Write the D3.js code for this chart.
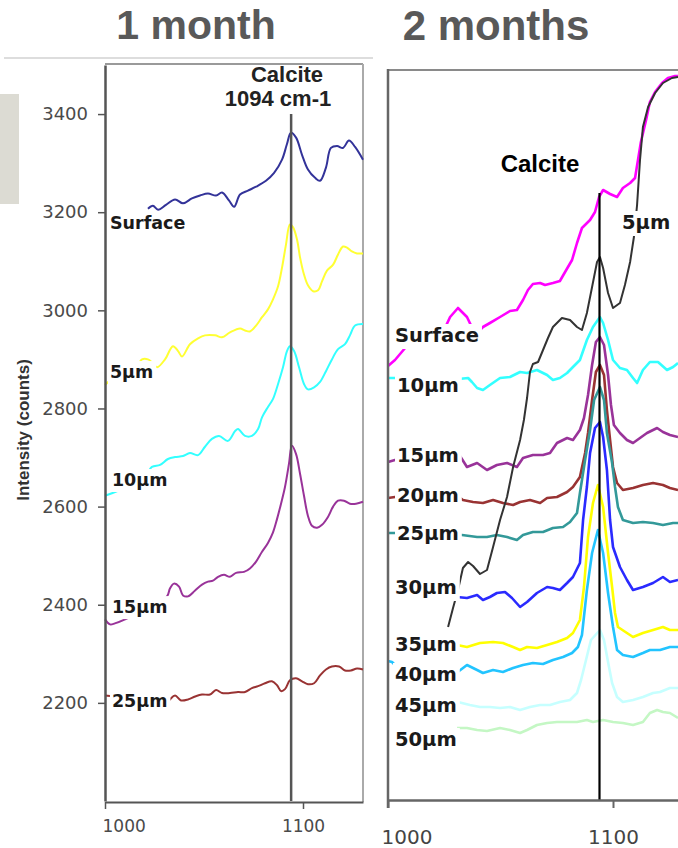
<!DOCTYPE html>
<html>
<head>
<meta charset="utf-8">
<script src="https://cdn.jsdelivr.net/npm/d3@7/dist/d3.min.js"></script>
<style>
  body { margin: 0; background: #fff; }
  svg { display: block; }
</style>
</head>
<body>
<svg id="chart" width="678" height="848"></svg>
<script>
// ---------- shared axis values ----------
const wavenumberTicks = [1000, 1100];
const oneMonthIntensityTicks = [2200, 2400, 2600, 2800, 3000, 3200, 3400];
const calciteBand = 1094;            // cm-1
const oneMonthMarkerTop = 3400;      // counts
const twoMonthMarkerTop = 3035;      // counts

// ---------- 1 month spectra: [wavenumber cm-1, intensity counts] ----------
const oneMonthDepths = ["Surface", "5µm", "10µm", "15µm", "25µm"];

const oneMonthSurface = [
  [1021.7,3207],[1024.2,3213],[1026.8,3205],[1030.8,3215],[1035.4,3226],[1039.4,3218],
  [1043.9,3228],[1048.0,3234],[1052.0,3238],[1056.1,3234],[1059.1,3240],[1062.6,3224],
  [1065.2,3211],[1068.2,3236],[1072.2,3244],[1076.3,3252],[1081.3,3264],[1085.4,3280],
  [1089.4,3307],[1091.9,3339],[1093.9,3362],[1096.5,3352],[1099.5,3317],[1102.5,3287],
  [1106.1,3270],[1108.6,3264],[1111.6,3291],[1114.1,3331],[1117.2,3335],[1120.2,3331],
  [1123.2,3346],[1126.3,3333],[1130.3,3307]
];
const oneMonth5um = [
  [1000,2848],[1002.5,2856],[1008,2862],[1014,2872],[1018.7,2900],[1021.7,2900],[1023.7,2894],
  [1026.3,2884],[1030.3,2900],[1034.3,2927],[1036.9,2917],[1038.9,2906],[1042.9,2931],
  [1047.0,2943],[1050.5,2949],[1055.6,2949],[1059.1,2945],[1063.1,2955],[1068.2,2963],
  [1070.7,2959],[1073.2,2957],[1076.3,2969],[1079.3,2986],[1082.3,3002],[1084.8,3022],
  [1087.4,3049],[1089.4,3087],[1091.4,3134],[1093.4,3175],[1095.0,3169],[1097.0,3144],
  [1098.5,3108],[1100.5,3073],[1102.5,3051],[1105.1,3039],[1107.6,3041],[1109.6,3059],
  [1112.1,3081],[1115.2,3093],[1117.7,3114],[1120.2,3130],[1122.2,3128],[1124.7,3120],
  [1127.3,3116],[1130.3,3116]
];
const oneMonth10um = [
  [1000,2622],[1006.6,2632],[1012,2640],[1019,2652],[1023.7,2681],[1027.8,2685],[1031.8,2697],
  [1035.4,2701],[1039.4,2703],[1042.9,2709],[1047.0,2705],[1050.5,2722],[1054.0,2738],
  [1057.6,2744],[1062.1,2734],[1065.7,2754],[1067.2,2758],[1070.7,2744],[1074.2,2744],
  [1077.3,2758],[1079.3,2782],[1082.3,2803],[1084.8,2819],[1087.4,2850],[1089.9,2884],
  [1091.9,2917],[1093.4,2927],[1095.5,2917],[1098.0,2884],[1100.5,2850],[1102.5,2839],
  [1105.6,2843],[1108.6,2854],[1111.6,2876],[1114.6,2900],[1117.7,2921],[1121.2,2931],
  [1123.7,2949],[1126.3,2969],[1130.3,2972]
];
const oneMonth15um = [
  [1000,2370],[1002.5,2360],[1005,2362],[1017.7,2385],[1031.3,2417],[1032.8,2433],
  [1034.8,2443],[1037.4,2437],[1039.4,2419],[1041.9,2417],[1045.5,2429],[1049.0,2441],
  [1052.0,2447],[1054.5,2449],[1057.1,2457],[1060.1,2461],[1063.1,2457],[1066.2,2465],
  [1070.2,2467],[1073.2,2474],[1076.3,2488],[1079.3,2508],[1082.3,2526],[1084.8,2547],
  [1086.9,2575],[1088.9,2606],[1090.9,2640],[1092.9,2687],[1094.4,2724],[1096.5,2707],
  [1098.5,2667],[1100.5,2622],[1102.5,2581],[1104.5,2561],[1107.1,2557],[1109.6,2563],
  [1112.6,2579],[1115.2,2600],[1117.7,2612],[1120.7,2612],[1123.7,2606],[1126.8,2606],
  [1130.3,2610]
];
const oneMonth25um = [
  [1000,2215],[1012.6,2209],[1030.3,2195],[1032.8,2207],[1035.4,2215],[1038.4,2205],
  [1041.9,2207],[1045.5,2213],[1049.0,2217],[1053.0,2217],[1056.1,2226],[1059.1,2220],
  [1063.1,2220],[1067.2,2222],[1070.7,2222],[1074.2,2230],[1077.3,2234],[1080.8,2240],
  [1084.3,2244],[1086.9,2236],[1088.9,2224],[1090.9,2228],[1093.4,2246],[1096.5,2250],
  [1099.5,2244],[1102.5,2238],[1105.6,2240],[1108.6,2256],[1111.6,2268],[1114.6,2274],
  [1118.2,2274],[1121.2,2266],[1124.2,2266],[1127.3,2270],[1130.3,2268]
];
const oneMonthSpectra = [oneMonthSurface, oneMonth5um, oneMonth10um, oneMonth15um, oneMonth25um];
const oneMonthColors = ["#333399", "#ffff33", "#33ffff", "#993399", "#993333"];
// where each depth label sits: [wavenumber, counts at text baseline]
const oneMonthLabelAt = [[1002.5,3165],[1002.5,2862],[1003.5,2642],[1003.5,2383],[1003.5,2192]];

// ---------- 2 months spectra: [wavenumber cm-1, intensity counts] ----------
const twoMonthDepths = ["Surface","5µm","10µm","15µm","20µm","25µm","30µm","35µm","40µm","45µm","50µm"];

const twoMonthSurface = [
  [1000,2170],[1003.1,2200],[1007.6,2260],[1016.4,2295],[1024.5,2340],[1027.6,2415],
  [1031.1,2460],[1035.1,2415],[1036.8,2375],[1040.0,2340],[1042.2,2365],[1045.3,2385],[1049.8,2415],
  [1054.2,2445],[1057.3,2450],[1060.0,2500],[1062.2,2550],[1064.4,2580],[1067.6,2585],
  [1069.8,2575],[1073.3,2585],[1076.4,2595],[1078.7,2640],[1081.8,2700],[1084.0,2785],
  [1086.2,2860],[1089.8,2900],[1092.0,2940],[1093.8,3015],[1095.6,3050],[1098.7,3030],
  [1101.8,3015],[1104.4,3060],[1107.6,3085],[1109.8,3110],[1111.1,3200],[1112.4,3290],
  [1114.7,3400],[1116.4,3490],[1118.7,3540],[1121.8,3585],[1124.4,3610],[1127.6,3620],
  [1128.9,3620]
];
const twoMonth5um = [
  [1026.7,865],[1028.9,960],[1031.1,1050],[1033.3,1160],[1035.6,1190],[1037.8,1170],
  [1040.9,1130],[1044.0,1150],[1046.7,1265],[1049.8,1400],[1052.9,1515],[1055.6,1665],
  [1058.7,1800],[1060.4,1900],[1061.8,2010],[1063.1,2140],[1064.4,2180],[1066.7,2190],
  [1068.9,2250],[1071.1,2310],[1073.3,2365],[1077.3,2410],[1080.9,2400],[1084.0,2365],
  [1086.2,2350],[1088.4,2435],[1090.7,2565],[1092.9,2690],[1094.2,2715],[1095.6,2660],
  [1097.8,2535],[1100.0,2460],[1103.1,2485],[1105.3,2575],[1107.6,2690],[1109.3,2815],
  [1110.7,2975],[1112.0,3200],[1113.3,3365],[1115.6,3465],[1118.7,3535],[1122.2,3585],
  [1126.2,3610],[1128.9,3615]
];
const twoMonth10um = [
  [1000,2110],[1003.1,2110],[1018.7,2090],[1035.6,2110],[1037.3,2090],[1039.6,2060],
  [1042.2,2050],[1045.3,2075],[1049.8,2110],[1054.2,2115],[1058.7,2140],[1061.8,2135],
  [1066.2,2150],[1070.7,2125],[1073.3,2100],[1076.4,2110],[1079.6,2135],[1082.2,2165],
  [1085.3,2200],[1088.4,2300],[1091.1,2365],[1094.2,2415],[1095.6,2385],[1097.8,2300],
  [1100.0,2200],[1103.1,2160],[1106.2,2150],[1108.9,2110],[1110.7,2085],[1113.3,2150],
  [1116.4,2190],[1120.0,2190],[1124.0,2150],[1126.7,2165],[1128.9,2185]
];
const twoMonth15um = [
  [1000,1690],[1003.1,1700],[1018.7,1725],[1032.0,1720],[1035.1,1665],[1039.6,1685],[1044.0,1650],
  [1048.4,1675],[1052.9,1685],[1057.3,1665],[1060.0,1710],[1064.4,1725],[1068.9,1725],
  [1072.0,1735],[1075.1,1785],[1079.6,1810],[1082.2,1800],[1085.3,1850],[1087.1,1910],
  [1088.9,2025],[1090.7,2175],[1092.4,2290],[1094.2,2315],[1096.0,2275],[1097.8,2125],
  [1099.1,1975],[1100.4,1875],[1103.1,1835],[1106.2,1800],[1108.9,1785],[1112.0,1810],
  [1115.1,1835],[1119.6,1860],[1122.2,1840],[1125.3,1825],[1128.9,1815]
];
const twoMonth20um = [
  [1000,1510],[1003.1,1515],[1018.7,1525],[1031.0,1520],[1033.3,1500],[1037.8,1490],[1042.2,1485],
  [1046.7,1500],[1051.1,1485],[1055.6,1475],[1058.7,1490],[1063.1,1500],[1067.6,1485],
  [1070.7,1510],[1075.1,1515],[1079.6,1540],[1082.2,1565],[1085.3,1615],[1087.6,1735],
  [1088.9,1835],[1090.7,2000],[1092.4,2140],[1094.2,2175],[1096.0,2125],[1097.3,1950],
  [1098.7,1800],[1100.0,1665],[1101.8,1585],[1104.4,1550],[1108.9,1560],[1113.3,1575],
  [1117.8,1585],[1122.2,1575],[1125.3,1560],[1128.9,1550]
];
const twoMonth25um = [
  [1000,1335],[1003.1,1335],[1018.7,1330],[1032.9,1325],[1039.6,1315],[1044.0,1315],
  [1048.4,1325],[1052.9,1315],[1057.3,1300],[1060.0,1325],[1064.4,1340],[1068.9,1340],
  [1073.3,1360],[1077.8,1365],[1080.9,1390],[1084.0,1435],[1085.3,1535],[1087.6,1700],
  [1089.8,1850],[1091.6,2000],[1094.2,2065],[1096.0,2000],[1097.3,1835],[1099.6,1685],
  [1100.9,1565],[1102.2,1465],[1104.4,1400],[1108.9,1385],[1113.3,1390],[1117.8,1385],
  [1122.2,1375],[1126.7,1385],[1128.9,1385]
];
const twoMonth30um = [
  [1030.7,1015],[1035.1,1010],[1039.6,1025],[1042.2,1000],[1045.3,1015],[1048.4,1035],
  [1052.0,1040],[1055.1,1010],[1058.7,965],[1061.8,990],[1066.2,1035],[1070.7,1065],
  [1073.3,1060],[1076.4,1050],[1079.6,1085],[1082.2,1115],[1085.3,1185],[1086.7,1400],
  [1088.4,1565],[1089.8,1735],[1092.0,1860],[1094.2,1890],[1095.6,1815],[1097.3,1650],
  [1098.7,1400],[1100.0,1265],[1103.1,1165],[1106.2,1100],[1108.9,1050],[1113.3,1065],
  [1117.8,1085],[1122.2,1115],[1125.3,1090],[1128.9,1100]
];
const twoMonth35um = [
  [1030.7,775],[1035.1,765],[1040.9,785],[1046.7,790],[1051.1,785],[1055.6,765],
  [1058.7,750],[1061.8,765],[1066.2,760],[1070.7,775],[1075.1,790],[1079.6,810],
  [1082.2,835],[1085.3,900],[1087.1,1065],[1088.9,1315],[1091.1,1485],[1093.3,1575],
  [1095.6,1465],[1097.8,1235],[1099.6,1065],[1100.9,935],[1102.2,865],[1106.2,835],
  [1108.9,815],[1113.3,835],[1117.8,850],[1122.2,865],[1125.3,850],[1128.9,850]
];
const twoMonth40um = [
  [1000,695],[1001.8,690],[1006,640],[1018.7,625],[1031.0,640],[1035.1,675],[1039.6,650],[1042.2,635],
  [1046.7,650],[1051.1,640],[1055.6,660],[1060.0,675],[1064.4,685],[1068.9,680],
  [1073.3,700],[1077.8,715],[1081.8,735],[1084.4,765],[1086.2,825],[1088.4,1050],
  [1090.7,1235],[1093.3,1350],[1095.6,1235],[1097.8,1035],[1100.0,865],[1101.8,750],
  [1104.4,725],[1108.9,715],[1113.3,735],[1116.4,750],[1120.9,750],[1125.3,765],
  [1128.9,765]
];
const twoMonth45um = [
  [1031.1,490],[1036.4,475],[1040.9,465],[1045.3,465],[1049.8,460],[1054.2,465],
  [1058.7,450],[1063.1,465],[1067.6,475],[1072.0,475],[1076.4,490],[1080.9,500],
  [1084.0,535],[1085.8,600],[1088.0,700],[1090.2,800],[1094.2,850],[1096.0,800],
  [1097.8,690],[1099.6,585],[1101.8,515],[1104.4,490],[1108.9,500],[1113.3,515],
  [1117.8,535],[1120.9,540],[1125.3,560],[1128.9,560]
];
const twoMonth50um = [
  [1030.7,360],[1035.1,360],[1039.6,350],[1044.0,345],[1049.8,360],[1054.2,350],
  [1058.7,335],[1061.8,350],[1066.2,375],[1070.7,385],[1075.1,390],[1079.6,390],
  [1084.0,390],[1088.4,400],[1091.1,390],[1095.6,400],[1100.0,390],[1104.4,385],
  [1108.9,375],[1113.3,390],[1116.4,435],[1119.6,450],[1122.2,440],[1125.3,435],
  [1128.9,410]
];
const twoMonthSpectra = [twoMonthSurface, twoMonth5um, twoMonth10um, twoMonth15um, twoMonth20um,
  twoMonth25um, twoMonth30um, twoMonth35um, twoMonth40um, twoMonth45um, twoMonth50um];
const twoMonthColors = ["#ff00ff", "#333333", "#33ffff", "#993399", "#993333", "#339999",
  "#2a2aff", "#ffff00", "#22c4ff", "#c6ffff", "#c4f7c4"];
// drawing order: the 5µm trace lies over the others
const twoMonthDrawOrder = [0, 2, 3, 4, 5, 6, 7, 8, 9, 10, 1];
const twoMonthLabelAt = [[1003.1,2290],[1104.0,2855],[1004.0,2040],[1004.0,1690],[1004.0,1490],
  [1004.0,1300],[1003.1,1030],[1003.1,745],[1003.1,595],[1003.1,440],[1003.1,270]];

// ---------- drawing ----------
const svg = d3.select("#chart");
const SANS = "'Liberation Sans', Arial, sans-serif";
const LABEL_FONT = "'DejaVu Sans', Verdana, sans-serif";

// title strip
svg.append("text").attr("x", 196).attr("y", 39).attr("text-anchor", "middle")
  .attr("font-family", SANS).attr("font-weight", "bold").attr("font-size", 41)
  .attr("fill", "#595959").text("1 month");
svg.append("text").attr("x", 496).attr("y", 40).attr("text-anchor", "middle")
  .attr("font-family", SANS).attr("font-weight", "bold").attr("font-size", 42)
  .attr("fill", "#595959").text("2 months");
svg.append("line").attr("x1", 4).attr("x2", 373).attr("y1", 58).attr("y2", 58)
  .attr("stroke", "#dddddd").attr("stroke-width", 2);
svg.append("rect").attr("x", 0).attr("y", 94).attr("width", 19).attr("height", 110)
  .attr("fill", "#dcdbd3");

// depth labels sit on white boxes that mask the traces behind them
function drawLabels(g, x, y, names, anchors, size, padTop) {
  names.forEach((name, i) => {
    const lg = g.append("g");
    const t = lg.append("text")
      .attr("x", x(anchors[i][0])).attr("y", y(anchors[i][1]))
      .attr("font-family", LABEL_FONT).attr("font-weight", "bold")
      .attr("font-size", size).attr("fill", "#1a1a1a").text(name);
    const b = t.node().getBBox();
    lg.insert("rect", "text")
      .attr("x", b.x - 2).attr("y", b.y + 1 - padTop)
      .attr("width", b.width + 5).attr("height", b.height + padTop + 1)
      .attr("fill", "#fff");
  });
}

// ===== 1 month panel =====
(function () {
  const x = d3.scaleLinear().domain([1000, 1130.3]).range([105, 363]);
  const y = d3.scaleLinear().domain([2000, 3500]).range([801, 65]);
  const g = svg.append("g");

  // frame
  g.append("line").attr("x1", 105).attr("x2", 363).attr("y1", 64).attr("y2", 64)
    .attr("stroke", "#9a9a9a").attr("stroke-width", 2);
  g.append("line").attr("x1", 363).attr("x2", 363).attr("y1", 64).attr("y2", 802)
    .attr("stroke", "#aaaaaa").attr("stroke-width", 2);

  const line = d3.line().x(d => x(d[0])).y(d => y(d[1])).curve(d3.curveCatmullRom.alpha(0.5));
  oneMonthSpectra.forEach((s, i) => {
    g.append("path").datum(s).attr("d", line).attr("fill", "none")
      .attr("stroke", oneMonthColors[i]).attr("stroke-width", 2)
      .attr("stroke-linejoin", "round");
  });

  // calcite band marker
  g.append("line").attr("x1", x(calciteBand)).attr("x2", x(calciteBand))
    .attr("y1", y(oneMonthMarkerTop)).attr("y2", y(2000))
    .attr("stroke", "#555").attr("stroke-width", 2.5);
  g.append("text").attr("x", 287).attr("y", 82).attr("text-anchor", "middle")
    .attr("font-family", SANS).attr("font-weight", "bold").attr("font-size", 22)
    .attr("fill", "#222").text("Calcite");
  g.append("text").attr("x", 278).attr("y", 106).attr("text-anchor", "middle")
    .attr("font-family", SANS).attr("font-weight", "bold").attr("font-size", 22)
    .attr("fill", "#222").text("1094 cm-1");

  // axes
  const ay = g.append("g").attr("transform", "translate(105,0)")
    .call(d3.axisLeft(y).tickValues(oneMonthIntensityTicks).tickFormat(d3.format("d"))
      .tickSize(7).tickSizeOuter(0).tickPadding(10));
  ay.select(".domain").attr("stroke", "#555").attr("stroke-width", 2.5);
  ay.selectAll(".tick line").attr("stroke", "#555").attr("stroke-width", 1.5);
  ay.selectAll(".tick text").attr("font-family", LABEL_FONT).attr("font-size", 18).attr("fill", "#4a4a4a");

  const ax = g.append("g").attr("transform", "translate(0,802)")
    .call(d3.axisBottom(x).tickValues(wavenumberTicks).tickFormat(d3.format("d"))
      .tickSize(7).tickSizeOuter(0).tickPadding(11));
  ax.select(".domain").attr("stroke", "#555").attr("stroke-width", 2);
  ax.selectAll(".tick line").attr("stroke", "#555").attr("stroke-width", 1.5);
  ax.selectAll(".tick text").attr("font-family", LABEL_FONT).attr("font-size", 17).attr("fill", "#4a4a4a")
    .attr("text-anchor", (d, i) => i === 0 ? "start" : "middle").attr("dx", (d, i) => i === 0 ? -3 : 0);

  g.append("text").attr("transform", "translate(29,430) rotate(-90)").attr("text-anchor", "middle")
    .attr("font-family", SANS).attr("font-weight", "bold").attr("font-size", 17)
    .attr("fill", "#333").text("Intensity (counts)");

  drawLabels(g, x, y, oneMonthDepths, oneMonthLabelAt, 17.5, 2);
})();

// ===== 2 months panel =====
(function () {
  const x = d3.scaleLinear().domain([1000, 1130]).range([388, 680.5]);
  const y = d3.scaleLinear().domain([0, 3650]).range([800, 70]);
  const g = svg.append("g");

  g.append("line").attr("x1", 388).attr("x2", 680).attr("y1", 70).attr("y2", 70)
    .attr("stroke", "#8a8a8a").attr("stroke-width", 2);

  const line = d3.line().x(d => x(d[0])).y(d => y(d[1])).curve(d3.curveLinear);
  twoMonthDrawOrder.forEach(i => {
    g.append("path").datum(twoMonthSpectra[i]).attr("d", line).attr("fill", "none")
      .attr("stroke", twoMonthColors[i]).attr("stroke-width", i === 1 ? 2 : 2.6)
      .attr("stroke-linejoin", "round");
  });

  g.append("line").attr("x1", x(calciteBand)).attr("x2", x(calciteBand))
    .attr("y1", y(twoMonthMarkerTop)).attr("y2", y(0))
    .attr("stroke", "#000").attr("stroke-width", 2.2);
  g.append("text").attr("x", 540).attr("y", 172).attr("text-anchor", "middle")
    .attr("font-family", SANS).attr("font-weight", "bold").attr("font-size", 24)
    .attr("fill", "#000").text("Calcite");

  // left edge of the plot area
  g.append("line").attr("x1", 388).attr("x2", 388).attr("y1", 69).attr("y2", 808)
    .attr("stroke", "#666").attr("stroke-width", 2.5);

  const ax = g.append("g").attr("transform", "translate(0,800)")
    .call(d3.axisBottom(x).tickValues(wavenumberTicks).tickFormat(d3.format("d"))
      .tickSize(8).tickSizeOuter(0).tickPadding(22));
  ax.select(".domain").attr("stroke", "#666").attr("stroke-width", 2.5);
  ax.selectAll(".tick line").attr("stroke", "#666").attr("stroke-width", 2);
  ax.selectAll(".tick text").attr("font-family", LABEL_FONT).attr("font-size", 20).attr("fill", "#444")
    .attr("text-anchor", (d, i) => i === 0 ? "start" : "middle").attr("dx", (d, i) => i === 0 ? -7 : 0);

  drawLabels(g, x, y, twoMonthDepths, twoMonthLabelAt, 19.5, 1);
})();
</script>
</body>
</html>
